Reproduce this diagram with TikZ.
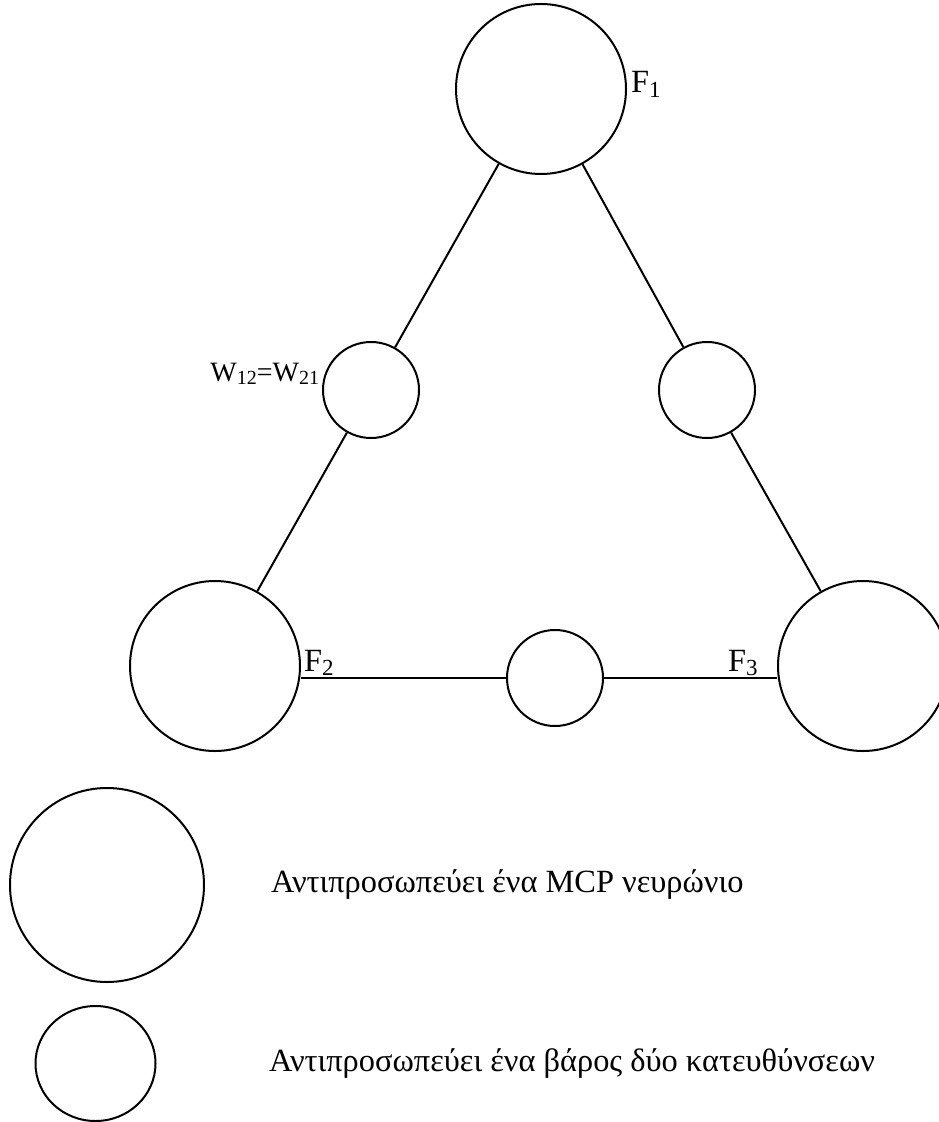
\documentclass[tikz,border=0pt]{standalone}
\usepackage{fontspec}
\setmainfont{Liberation Serif}
\usetikzlibrary{positioning,shapes.geometric}
\newcommand{\idx}[1]{\raisebox{-0.3ex}{\fontsize{11.5}{12}\selectfont #1}}
\newcommand{\idxs}[1]{\raisebox{-0.3ex}{\fontsize{10}{11}\selectfont #1}}

\begin{document}
\begin{tikzpicture}[x=0.5pt,y=-0.5pt,line width=1pt,
  every node/.style={inner sep=0},
  neuron/.style={draw,circle,minimum size=85pt},
  weight/.style={draw,circle,minimum size=48pt},
  lbl/.style={font=\fontsize{16.2}{19}\selectfont},
  smlbl/.style={font=\fontsize{14}{16}\selectfont}]
\useasboundingbox (0,0) rectangle (938,1122);

\node[neuron] (n1) at (541,89) {};
\node[neuron] (n2) at (215,666) {};
\node[neuron] (n3) at (863,666) {};
\node[weight] (w12) at (371,390) {};
\node[weight] (w13) at (707,390) {};
\node[weight] (w23) at (555,678) {};

\draw (n1) -- (w12) -- (n2);
\draw (n1) -- (w13) -- (n3);
\draw (w23) -- (w23 -| n2.east);
\draw (w23) -- (w23 -| n3.west);

\node[lbl,anchor=base west] (f1) at (630,93) {F\idx{1}};
\node[lbl,anchor=base west] (f2) at (303,671) {F\idx{2}};
\node[lbl,anchor=base west] (f3) at (727,671) {F\idx{3}};
\node[smlbl,anchor=base east] (w12l) at (320,381) {W\idxs{12}=W\idxs{21}};

% legend
\node[draw,circle,minimum size=97pt] (lgn) at (107,885) {};
\node[draw,ellipse,minimum width=60pt,minimum height=57.5pt] (lgw) at (95.5,1063.5) {};
\node[lbl,anchor=base west] (lgnt) at (270,892) {Αντιπροσωπεύει ένα MCP νευρώνιο};
\node[lbl,anchor=base west] (lgwt) at (268,1071) {Αντιπροσωπεύει ένα βάρος δύο κατευθύνσεων};
\end{tikzpicture}
\end{document}
